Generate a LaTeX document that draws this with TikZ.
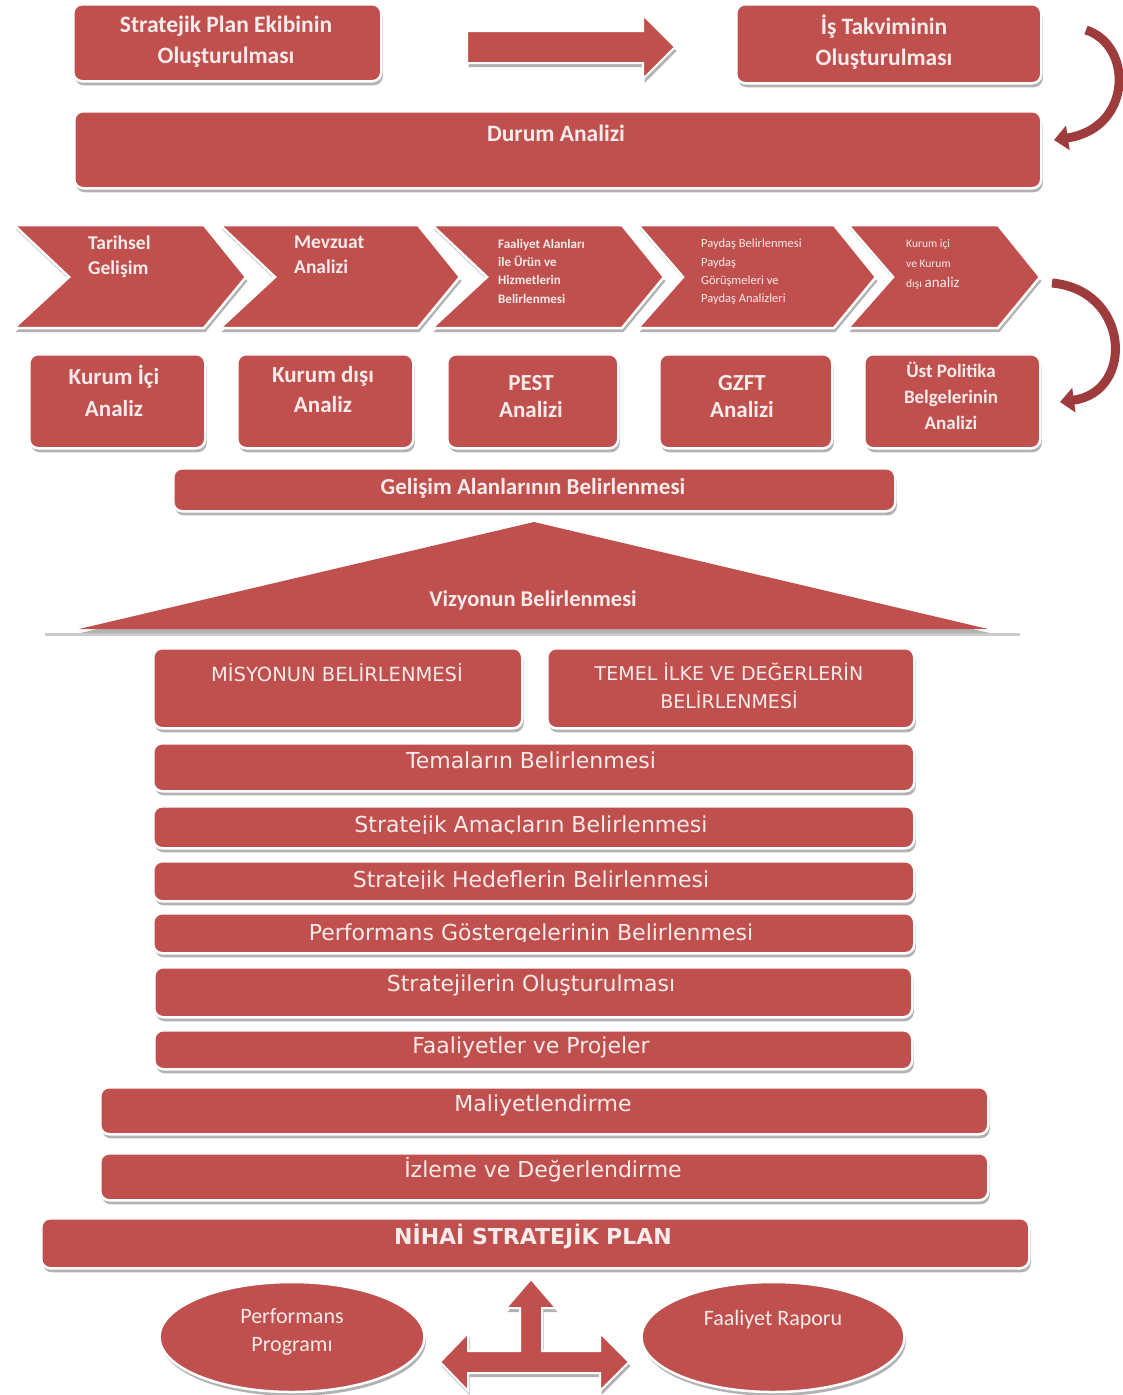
\documentclass[tikz,border=0pt]{standalone}
\usepackage{fontspec}
\setmainfont{Carlito}
\newfontfamily\vf{DejaVu Sans}
\usetikzlibrary{shadows,arrows.meta,shapes.geometric,shapes.arrows,calc}
\definecolor{myred}{HTML}{C0504D}
\definecolor{darkred}{HTML}{9E3B3D}
\definecolor{txt}{HTML}{F8EBEB}
\begin{document}
\begin{tikzpicture}[x=1pt,y=-1pt,
  sh/.style={drop shadow={shadow xshift=1.5pt,shadow yshift=-4pt,opacity=0.3,fill=black}},
  rbox/.style={sh,draw=white,line width=2.5pt,fill=myred,rounded corners=9pt,inner sep=0pt,anchor=north west},
  chev/.style={sh,draw=white,line width=2.5pt,fill=myred},
  lbl/.style={text=txt,font=\bfseries\fontsize{23.5}{31}\selectfont,align=center},
  clbl/.style={text=txt,font=\bfseries\fontsize{19.5}{25}\selectfont,align=left,anchor=north west,inner sep=0pt},
  slbl/.style={text=txt,font=\bfseries\fontsize{13}{18.3}\selectfont,align=left,anchor=north west,inner sep=0pt},
  vlbl/.style={text=txt,font=\vf\fontsize{22}{28}\selectfont,align=center},
  curv/.style={line width=9pt,darkred,-{Triangle[length=14pt,width=24pt]}},
  curvw/.style={line width=14pt,white,-{Triangle[length=17pt,width=31pt]}}
]
\useasboundingbox (0,0) rectangle (1123,1395);
\newcommand\rb[5]{\node[rbox,minimum width={#4-#2},minimum height={#5-#3}] (#1) at (#2,#3) {};}

% ---- top row
\rb{b1}{72}{3}{380}{80}
\rb{b2}{735}{3}{1040}{82}
\rb{b3}{73}{110}{1040}{187}
\node[lbl] (t1) at (226,42) {Stratejik Plan Ekibinin\\Oluşturulması};
\node[lbl] (t2) at (884,42) {İş Takviminin\\Oluşturulması};
\node[lbl] (t3) at (556,133) {Durum Analizi};
\node[sh,single arrow,draw=white,line width=2pt,fill=myred,minimum height=208,minimum width=0pt,
      single arrow head extend=16pt,inner xsep=0pt,inner ysep=15pt] (ar1) at (563,47) {};

% curved arrow 1
\coordinate (c1s) at (1086,30);
\coordinate (c1e) at (1054,140);
\draw[curvw] (c1s) .. controls (1133,45) and (1133,128) .. (c1e);
\draw[curv] (c1s) .. controls (1133,45) and (1133,128) .. (c1e);

% ---- chevrons
\newcommand\chv[3]{\draw[chev] (#1,225) -- (#2-42,225) -- (#2,277) -- (#2-42,328) -- (#1,328) -- (#1+#3,277) -- cycle;}
\chv{14}{246}{55}
\chv{220}{460}{55}
\chv{432}{664}{55}
\chv{638}{876}{45}
\chv{848}{1040}{45}
\node[clbl] (ch1) at (88,236) {Tarihsel\\Gelişim};
\node[clbl] (ch2) at (294,236) {Mevzuat\\Analizi};
\node[slbl] (ch3) at (498,239) {Faaliyet Alanları\\ile Ürün ve\\Hizmetlerin\\Belirlenmesi};
\node[slbl,font=\fontsize{12.5}{18.3}\selectfont] (ch4) at (701,239) {Paydaş Belirlenmesi\\Paydaş\\Görüşmeleri ve\\Paydaş Analizleri};
\node[slbl,font=\fontsize{11.5}{20}\selectfont] (ch5) at (906,239) {Kurum içi\\ve Kurum\\dışı {\fontsize{15}{20}\selectfont analiz}};

% curved arrow 2
\coordinate (c2s) at (1052,283);
\coordinate (c2e) at (1060,402);
\draw[curvw] (c2s) .. controls (1130,290) and (1135,392) .. (c2e);
\draw[curv] (c2s) .. controls (1130,290) and (1135,392) .. (c2e);

% ---- analysis boxes
\rb{k1}{28}{353}{204}{447}
\rb{k2}{236}{353}{412}{447}
\rb{k3}{446}{353}{617}{447}
\rb{k4}{658}{353}{831}{447}
\rb{k5}{863}{353}{1039}{447}
\node[lbl,font=\bfseries\fontsize{23}{32}\selectfont] (kt1) at (114,391) {Kurum İçi\\Analiz};
\node[lbl,font=\bfseries\fontsize{23}{30}\selectfont] (kt2) at (323,390) {Kurum dışı\\Analiz};
\node[lbl,font=\bfseries\fontsize{23}{27}\selectfont] (kt3) at (531,397) {PEST\\Analizi};
\node[lbl,font=\bfseries\fontsize{23}{27}\selectfont] (kt4) at (742,397) {GZFT\\Analizi};
\node[lbl,font=\bfseries\fontsize{19}{26}\selectfont] (kt5) at (951,396) {Üst Politika\\Belgelerinin\\Analizi};

\rb{gel}{172}{467}{894}{510}
\node[lbl,font=\bfseries\fontsize{23}{26}\selectfont] (gt) at (533,488) {Gelişim Alanlarının Belirlenmesi};

% ---- vision triangle
\draw[gray!40,line width=3pt] (45,634) -- (1020,634);
\path[sh,fill=myred] (79,629) -- (534,522) -- (988,629) -- cycle;
\node[lbl,font=\bfseries\fontsize{22.5}{26}\selectfont] (vt) at (533,600) {Vizyonun Belirlenmesi};

% ---- mission / values
\rb{mis}{152}{647}{521}{727}
\rb{tem}{546}{647}{913}{727}
\node[vlbl,font=\vf\fontsize{19.5}{28}\selectfont] (mt) at (337,673) {MİSYONUN BELİRLENMESİ};
\node[vlbl,font=\vf\fontsize{19}{28}\selectfont] (tt) at (729,686) {TEMEL İLKE VE DEĞERLERİN\\BELİRLENMESİ};

% ---- stacked bars
\rb{tma}{152}{742}{913}{790}
\rb{amc}{152}{805}{913}{847}
\rb{hdf}{152}{860}{913}{900}
\rb{prf}{152}{912}{913}{952}
\rb{str}{153}{966}{911}{1016}
\rb{faa}{153}{1029}{911}{1068}
\rb{mal}{99}{1086}{987}{1133}
\rb{izl}{99}{1152}{987}{1199}
\rb{nih}{40}{1217}{1028}{1267}
\node[vlbl] (tmt) at (531,760) {Temaların Belirlenmesi};
\begin{scope}
\clip (152,800) rectangle (913,833);
\node[vlbl,anchor=base] (amt) at (531,832) {Stratejik Amaçların Belirlenmesi};
\end{scope}
\begin{scope}
\clip (152,855) rectangle (913,888);
\node[vlbl,anchor=base] (hdt) at (531,887) {Stratejik Hedeflerin Belirlenmesi};
\end{scope}
\begin{scope}
\clip (152,905) rectangle (913,941);
\node[vlbl,anchor=base] (prt) at (531,940) {Performans Göstergelerinin Belirlenmesi};
\end{scope}
\node[vlbl] (stt) at (531,985) {Stratejilerin Oluşturulması};
\node[vlbl] (fat) at (531,1047) {Faaliyetler ve Projeler};
\node[vlbl] (mat) at (543,1105) {Maliyetlendirme};
\node[vlbl] (izt) at (543,1170) {İzleme ve Değerlendirme};
\node[vlbl,font=\vf\bfseries\fontsize{22}{26}\selectfont] (nit) at (533,1236) {NİHAİ STRATEJİK PLAN};

% ---- bottom
\node[sh,ellipse,draw=white,line width=2.5pt,fill=myred,minimum width=265,minimum height=110,inner sep=0pt] (e1) at (292,1337) {};
\node[sh,ellipse,draw=white,line width=2.5pt,fill=myred,minimum width=263,minimum height=110,inner sep=0pt] (e2) at (773,1337) {};
\node[lbl,font=\fontsize{22}{28}\selectfont] (et1) at (292,1332) {Performans\\Programı};
\node[lbl,font=\fontsize{22}{28}\selectfont] (et2) at (773,1320) {Faaliyet Raporu};
\draw[sh,draw=white,line width=2pt,fill=myred]
  (531,1279) -- (556,1308) -- (542,1308) -- (542,1351) -- (600,1351) -- (600,1333) -- (629,1362)
  -- (600,1391) -- (600,1373) -- (468,1373) -- (468,1391) -- (440,1362) -- (468,1333)
  -- (468,1351) -- (520,1351) -- (520,1308) -- (506,1308) -- cycle;
\end{tikzpicture}
\end{document}
